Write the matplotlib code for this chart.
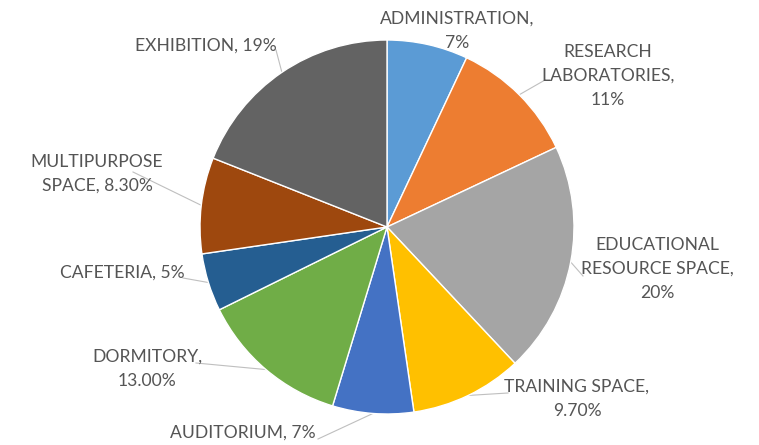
import numpy as np
import matplotlib
matplotlib.use("Agg")
import matplotlib.pyplot as plt

categories = ["ADMINISTRATION", "RESEARCH LABORATORIES", "EDUCATIONAL RESOURCE SPACE",
              "TRAINING SPACE", "AUDITORIUM", "DORMITORY", "CAFETERIA",
              "MULTIPURPOSE SPACE", "EXHIBITION"]
values = [7, 11, 20, 9.7, 7, 13, 5, 8.3, 19]
label_texts = ["ADMINISTRATION,\n7%", "RESEARCH\nLABORATORIES,\n11%",
               "EDUCATIONAL\nRESOURCE SPACE,\n20%", "TRAINING SPACE,\n9.70%",
               "AUDITORIUM, 7%", "DORMITORY,\n13.00%", "CAFETERIA, 5%",
               "MULTIPURPOSE\nSPACE, 8.30%", "EXHIBITION, 19%"]
colors = ["#5B9BD5", "#ED7D31", "#A5A5A5", "#FFC000", "#4472C4",
          "#70AD47", "#255E91", "#9E480E", "#636363"]

W, H = 759, 445
fig = plt.figure(figsize=(W / 100, H / 100), dpi=100)
ax = fig.add_axes([0, 0, 1, 1])
ax.set_xlim(0, W)
ax.set_ylim(0, H)
ax.set_aspect("equal")
ax.axis("off")

cx, cy, r = 387, H - 227, 187
wedges, _ = ax.pie(values, colors=colors, startangle=90, counterclock=False,
                   center=(cx, cy), radius=r,
                   wedgeprops=dict(edgecolor="white", linewidth=1.0))
ax.set_xlim(0, W)
ax.set_ylim(0, H)

# label centre positions (pixels from top-left) and leader start points
label_pos = [(457, 31), (608, 76), (657, 269), (577, 399), (243, 433),
             (147, 369), (122, 273), (97, 174), (206, 46)]
leader_from = [None, (545, 80), (583, 276), (508, 393), (318, 439),
               (196, 363), (183, 278), (133, 172), (276, 50)]

font = dict(family="Lato", size=12.6, color="#555555")
for w, txt, (lx, ly), lf in zip(wedges, label_texts, label_pos, leader_from):
    ax.text(lx, H - ly, txt, ha="center", va="center", linespacing=1.6, **font)
    if lf is not None:
        mid = np.deg2rad((w.theta1 + w.theta2) / 2)
        ex, ey = cx + r * np.cos(mid), cy + r * np.sin(mid)
        ax.plot([lf[0], ex], [H - lf[1], ey], color="#BFBFBF", lw=0.8, zorder=0)

fig.savefig("out.png", dpi=100)
